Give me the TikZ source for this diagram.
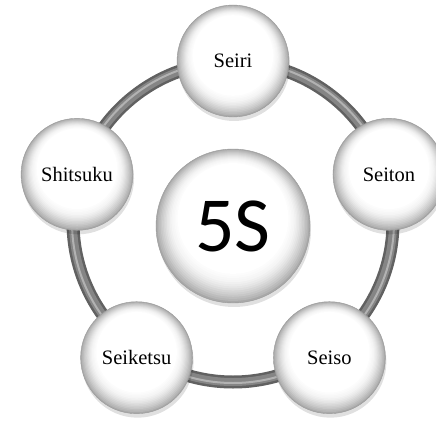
\documentclass[tikz,border=0pt]{standalone}
\usepackage{fontspec}
\setmainfont{Liberation Serif}
\newfontfamily\calib{Carlito}
\tikzset{
 ball/.style={circle, draw=black!40, line width=.4pt,
   minimum size=112pt, inner sep=0pt, font=\fontsize{20.5}{24}\selectfont},
 ballshadow/.style={fill=black, opacity=.12},
}
% white sphere, grey towards the lower rim: #1 centre, #2 radius
\newcommand{\shadeball}[2]{%
 \begin{scope}[shift={(#1)}]
  \fill[ballshadow] (1,-4) circle[radius=#2pt];
  \foreach \k in {0,...,16}{
   \pgfmathsetmacro{\rr}{#2*(1-0.02*\k)}
   \pgfmathtruncatemacro{\cc}{34*(1-\k/16)^2}
   \fill[black!\cc!white] (0,{0.35*(#2-\rr)}) circle[radius=\rr pt];
  }
 \end{scope}}

\begin{document}
\begin{tikzpicture}[x=1pt,y=1pt]
\useasboundingbox[fill=white] (-233,-196) rectangle (203,225);
% ring behind the balls
\draw[black!62, line width=13pt] (0,3) circle[radius=160pt];
\draw[black!48, line width=8pt] (0,3) circle[radius=160pt];
\draw[black!30, line width=2pt] (0,3) circle[radius=161pt];
% centre
\shadeball{0,-1}{77}
\node[ball, minimum size=154pt, font=\calib\fontsize{78}{80}\selectfont] (fives) at (0,-1) {5S};
% the five steps
\foreach \ang/\nm/\txt in {90/seiri/Seiri, 18/seiton/Seiton, -54/seiso/Seiso, -126/seiketsu/Seiketsu, 162/shitsuku/Shitsuku} {
 \shadeball{\ang:164}{56}
 \node[ball] (\nm) at (\ang:164) {\txt};
}
\end{tikzpicture}
\end{document}
